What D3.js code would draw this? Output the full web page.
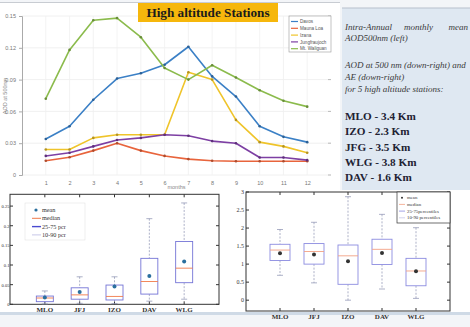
<!DOCTYPE html>
<html><head><meta charset="utf-8">
<script src="https://cdn.jsdelivr.net/npm/d3@7"></script>
<style>
html,body{margin:0;padding:0;background:#f3f5f8;}
svg{display:block;}
</style></head>
<body>
<svg id="c" width="470" height="327"></svg>
<script>
// ---------- DATA ----------
const months = [1,2,3,4,5,6,7,8,9,10,11,12];
const stationNames = ["Davos","Mauna Loa","Izana","Jungfraujoch","Mt. Waliguan"];
const davos       = [0.034,0.046,0.071,0.091,0.096,0.104,0.121,0.093,0.074,0.046,0.036,0.031];
const maunaLoa    = [0.0135,0.0167,0.023,0.030,0.023,0.018,0.015,0.0135,0.013,0.013,0.013,0.013];
const izana       = [0.024,0.024,0.035,0.038,0.038,0.038,0.097,0.090,0.052,0.031,0.027,0.021];
const jungfraujoch= [0.018,0.021,0.027,0.033,0.035,0.038,0.037,0.032,0.030,0.0165,0.0165,0.014];
const waliguan    = [0.072,0.118,0.146,0.148,0.130,0.101,0.090,0.1035,0.092,0.080,0.070,0.0645];
const yTicksTop   = [0,0.03,0.06,0.09,0.12,0.15];

const boxCats = ["MLO","JFJ","IZO","DAV","WLG"];
// AOD 500nm box stats (down-left)
const aodLow    = [0.001,0.0025,0.002,0.008,0.013];
const aodQ1     = [0.0067,0.013,0.011,0.026,0.055];
const aodMedian = [0.016,0.024,0.020,0.058,0.092];
const aodQ3     = [0.021,0.042,0.049,0.117,0.160];
const aodHigh   = [0.034,0.070,0.070,0.218,0.258];
const aodMean   = [0.017,0.031,0.045,0.072,0.109];
const aodTicks  = [0,0.05,0.1,0.15,0.2,0.25];
const aodTickLabels = ["0","0.05","0.1","0.15","0.2","0.25"];
// AE box stats (down-right)
const aeLow    = [0.69,0.48,0.0,0.31,0.05];
const aeQ1     = [1.10,1.00,0.44,0.99,0.40];
const aeMedian = [1.39,1.35,1.23,1.41,0.81];
const aeQ3     = [1.55,1.57,1.53,1.69,1.16];
const aeHigh   = [1.96,2.16,2.87,2.38,2.01];
const aeMean   = [1.30,1.27,1.08,1.31,0.80];
const aeTicks  = [0,0.5,1,1.5,2,2.5,3];
const aeTickLabels = ["0","0.5","1","1.5","2","2.5","3"];

const lineColors = ["#3b80c6","#e8643c","#efc42a","#7d3fa3","#8bbb4c"];

// ---------- DRAW ----------
const svg = d3.select("#c");
const serif = "Liberation Serif, Times New Roman, serif";
const sans = "Liberation Sans, Arial, sans-serif";

// panels
svg.append("rect").attr("x",0).attr("y",3).attr("width",340).attr("height",187).attr("fill","#fff");
svg.append("line").attr("x1",0).attr("x2",340).attr("y1",2.5).attr("y2",2.5).attr("stroke","#c8ccd2");
svg.append("rect").attr("x",342).attr("y",8).attr("width",128).attr("height",182).attr("fill","#dfe8f2");
svg.append("line").attr("x1",342).attr("x2",470).attr("y1",8).attr("y2",8).attr("stroke","#b7c0cb").attr("stroke-width",1.2);
svg.append("rect").attr("x",0).attr("y",190).attr("width",470).attr("height",122).attr("fill","#fff");
svg.append("rect").attr("x",0).attr("y",312).attr("width",470).attr("height",3).attr("fill","#cfdae6");

// ---- top line chart ----
const x = d3.scaleLinear().domain([0,13]).range([22,331]);
const y = d3.scaleLinear().domain([0,0.15]).range([175,16]);
const g = svg.append("g");
// grid
g.selectAll("line.hg").data(yTicksTop).join("line").attr("class","hg")
  .attr("x1",22).attr("x2",331).attr("y1",d=>y(d)).attr("y2",d=>y(d))
  .attr("stroke","#ececec").attr("stroke-width",0.8);
g.selectAll("line.vg").data(months).join("line").attr("class","vg")
  .attr("x1",d=>x(d)).attr("x2",d=>x(d)).attr("y1",16).attr("y2",175)
  .attr("stroke","#f0f0f0").attr("stroke-width",0.8);
// axes
const yAx = g.append("g").attr("transform","translate(22,0)")
  .call(d3.axisLeft(y).tickValues(yTicksTop).tickSize(3).tickFormat(d=>d===0?"0":d3.format(".2f")(d)));
yAx.select(".domain").attr("stroke","#aaa");
yAx.selectAll("line").attr("stroke","#aaa");
yAx.selectAll("text").attr("fill","#777").attr("font-size",5.5).attr("font-family",sans);
const xAx = g.append("g").attr("transform","translate(0,175)")
  .call(d3.axisBottom(x).tickValues(months).tickSize(0).tickPadding(6).tickFormat(d3.format("d")));
xAx.select(".domain").remove();
xAx.selectAll("text").attr("fill","#777").attr("font-size",5.5).attr("font-family",sans);
g.append("text").attr("x",x(6.5)).attr("y",189).attr("text-anchor","middle")
  .attr("font-size",5.5).attr("fill","#888").attr("font-family",sans).text("months");
g.append("text").attr("transform","translate(7,96) rotate(-90)").attr("text-anchor","middle")
  .attr("font-size",5.5).attr("fill","#888").attr("font-family",sans).text("AOD at 500nm");
// right-side tick marks
g.selectAll("line.rt").data(yTicksTop).join("line").attr("class","rt")
  .attr("x1",328).attr("x2",331).attr("y1",d=>y(d)).attr("y2",d=>y(d)).attr("stroke","#bbb");

const series = [davos,maunaLoa,izana,jungfraujoch,waliguan];
const line = d3.line().x((d,i)=>x(months[i])).y(d=>y(d));
series.forEach((s,k)=>{
  g.append("path").attr("d",line(s)).attr("fill","none")
   .attr("stroke",lineColors[k]).attr("stroke-width",1.6).attr("stroke-linejoin","round");
  g.selectAll("circle.pt"+k).data(s).join("circle").attr("class","pt"+k)
   .attr("cx",(d,i)=>x(months[i])).attr("cy",d=>y(d)).attr("r",1.3)
   .attr("fill",d3.color(lineColors[k]).darker(0.8));
});

// legend
const lg = svg.append("g");
lg.append("rect").attr("x",289).attr("y",16).attr("width",42).attr("height",36)
  .attr("fill","#fff").attr("stroke","#999").attr("stroke-width",0.6);
stationNames.forEach((n,i)=>{
  const yy = 21.5 + i*6.8;
  lg.append("line").attr("x1",291).attr("x2",298).attr("y1",yy).attr("y2",yy)
    .attr("stroke",lineColors[i]).attr("stroke-width",1.2);
  lg.append("text").attr("x",300).attr("y",yy+1.6).attr("font-size",4.6)
    .attr("font-family",sans).attr("fill","#555").text(n);
});

// title
svg.append("rect").attr("x",138).attr("y",3).attr("width",140).attr("height",19).attr("fill","#f6b70c");
svg.append("text").attr("x",208).attr("y",17).attr("text-anchor","middle")
  .attr("font-family",serif).attr("font-weight","bold").attr("font-size",13.2)
  .attr("fill","#1b1b1b").text("High altitude Stations");

// right text panel
const it = (t,xx,yy,anchor)=>svg.append("text").attr("x",xx).attr("y",yy).attr("font-family",serif)
  .attr("text-anchor",anchor||"start")
  .attr("font-style","italic").attr("font-size",9).attr("fill","#3a3a3a").text(t);
it("Intra-Annual",345,30); it("monthly",404,30); it("mean",468,30,"end");
it("AOD500nm (left)",345,41);
it("AOD at 500 nm (down-right) and",345,68);
it("AE (down-right)",345,80);
it("for 5 high altitude stations:",345,92);
const sta = ["MLO - 3.4 Km","IZO - 2.3 Km","JFG - 3.5 Km","WLG - 3.8 Km","DAV - 1.6 Km"];
sta.forEach((t,i)=>svg.append("text").attr("x",345).attr("y",120+i*15.3)
  .attr("font-family",serif).attr("font-weight","bold").attr("font-size",11.2)
  .attr("fill","#222233").text(t));

// ---- box plots ----
function boxPlot(opts){
  const {x0,x1,y0,y1,domain,ticks,tickLabels,low,q1,med,q3,high,mean,bw,
         boxColor,medColor,meanColor,labelX,labelSize} = opts;
  const bx = d3.scalePoint().domain(boxCats).range([x0,x1]).padding(1);
  const by = d3.scaleLinear().domain(domain).range([y1,y0]);
  const bg = svg.append("g");
  bg.append("rect").attr("x",x0).attr("y",y0).attr("width",x1-x0).attr("height",y1-y0)
    .attr("fill","none").attr("stroke","#333").attr("stroke-width",1);
  bg.selectAll("line.yt").data(ticks).join("line").attr("class","yt").attr("x1",x0).attr("x2",x0+3)
    .attr("y1",d=>by(d)).attr("y2",d=>by(d)).attr("stroke","#333");
  bg.selectAll("line.yt2").data(ticks).join("line").attr("class","yt2").attr("x1",x1-3).attr("x2",x1)
    .attr("y1",d=>by(d)).attr("y2",d=>by(d)).attr("stroke","#333");
  bg.selectAll("text.ytl").data(ticks).join("text").attr("class","ytl").attr("x",labelX).attr("y",d=>by(d)+2)
    .attr("text-anchor","end").attr("font-size",labelSize).attr("font-family",serif)
    .attr("fill","#333").text((d,i)=>tickLabels[i]);
  bg.selectAll("line.xt").data(boxCats).join("line").attr("class","xt").attr("x1",d=>bx(d)).attr("x2",d=>bx(d))
    .attr("y1",y1).attr("y2",y1-3).attr("stroke","#333");
  bg.selectAll("line.xt2").data(boxCats).join("line").attr("class","xt2").attr("x1",d=>bx(d)).attr("x2",d=>bx(d))
    .attr("y1",y0).attr("y2",y0+3).attr("stroke","#333");
  bg.selectAll("text.xl").data(boxCats).join("text").attr("class","xl").attr("x",d=>bx(d)).attr("y",y1+8)
    .attr("text-anchor","middle").attr("font-size",7).attr("font-weight","bold")
    .attr("font-family",serif).attr("fill","#333").text(d=>d);
  boxCats.forEach((c,i)=>{
    const cx = bx(c);
    bg.append("line").attr("x1",cx).attr("x2",cx).attr("y1",by(high[i])).attr("y2",by(q3[i]))
      .attr("stroke","#8a8fb0").attr("stroke-dasharray","2,1.5").attr("stroke-width",0.7);
    bg.append("line").attr("x1",cx).attr("x2",cx).attr("y1",by(q1[i])).attr("y2",by(low[i]))
      .attr("stroke","#8a8fb0").attr("stroke-dasharray","2,1.5").attr("stroke-width",0.7);
    [high[i],low[i]].forEach(v=>bg.append("line").attr("x1",cx-3).attr("x2",cx+3)
      .attr("y1",by(v)).attr("y2",by(v)).attr("stroke","#8a8fb0").attr("stroke-width",0.7));
    bg.append("rect").attr("x",cx-bw/2).attr("y",by(q3[i])).attr("width",bw)
      .attr("height",by(q1[i])-by(q3[i])).attr("fill","#fff")
      .attr("stroke",boxColor).attr("stroke-width",0.9);
    bg.append("line").attr("x1",cx-bw/2).attr("x2",cx+bw/2).attr("y1",by(med[i])).attr("y2",by(med[i]))
      .attr("stroke",medColor).attr("stroke-width",0.9);
    bg.append("circle").attr("cx",cx).attr("cy",by(mean[i])).attr("r",2)
      .attr("fill",meanColor);
  });
}

boxPlot({x0:10,x1:219,y0:194.3,y1:304.3,domain:[0,0.28],ticks:aodTicks,tickLabels:aodTickLabels,
  low:aodLow,q1:aodQ1,med:aodMedian,q3:aodQ3,high:aodHigh,mean:aodMean,bw:17,
  boxColor:"#7474d6",medColor:"#f07a4a",meanColor:"#2a6f9e",labelX:9.6,labelSize:4.6});
boxPlot({x0:246,x1:450,y0:192,y1:311,domain:[-0.3,3],ticks:aeTicks,tickLabels:aeTickLabels,
  low:aeLow,q1:aeQ1,med:aeMedian,q3:aeQ3,high:aeHigh,mean:aeMean,bw:20,
  boxColor:"#8c8ce0",medColor:"#f3a184",meanColor:"#333",labelX:244,labelSize:6});

// bottom-left legend
const l1 = svg.append("g");
l1.append("rect").attr("x",25).attr("y",203).attr("width",60).attr("height",37)
  .attr("fill","#fff").attr("stroke","#ddd").attr("stroke-width",0.5);
const legItems = ["mean","median","25-75 pcr","10-90 pcr"];
const legCols = ["#2a6f9e","#f07a4a","#4a4ad0","#c8c8e8"];
legItems.forEach((t,i)=>{
  const yy = 210 + i*8.3;
  if(i===0) l1.append("circle").attr("cx",36).attr("cy",yy).attr("r",1.6).attr("fill",legCols[0]);
  else l1.append("line").attr("x1",32).attr("x2",41).attr("y1",yy).attr("y2",yy)
        .attr("stroke",legCols[i]).attr("stroke-width",i===2?1.4:1);
  l1.append("text").attr("x",42).attr("y",yy+2).attr("font-size",6.2).attr("font-family",serif)
    .attr("fill","#333").text(t);
});
// bottom-right legend
const l2 = svg.append("g");
l2.append("rect").attr("x",397).attr("y",192).attr("width",53).attr("height",31)
  .attr("fill","#fff").attr("stroke","#333").attr("stroke-width",0.7);
const legItems2 = ["mean","median","25-75percentiles","10-90 percentiles"];
const legCols2 = ["#333","#f3a184","#8c8ce0","#c8c8e8"];
legItems2.forEach((t,i)=>{
  const yy = 197.7 + i*6.7;
  if(i===0) l2.append("circle").attr("cx",402).attr("cy",yy).attr("r",1).attr("fill",legCols2[0]);
  else l2.append("line").attr("x1",399).attr("x2",405).attr("y1",yy).attr("y2",yy)
        .attr("stroke",legCols2[i]).attr("stroke-width",0.8);
  l2.append("text").attr("x",407).attr("y",yy+1.6).attr("font-size",4.8).attr("font-family",serif)
    .attr("fill","#333").text(t);
});
</script>
</body></html>
